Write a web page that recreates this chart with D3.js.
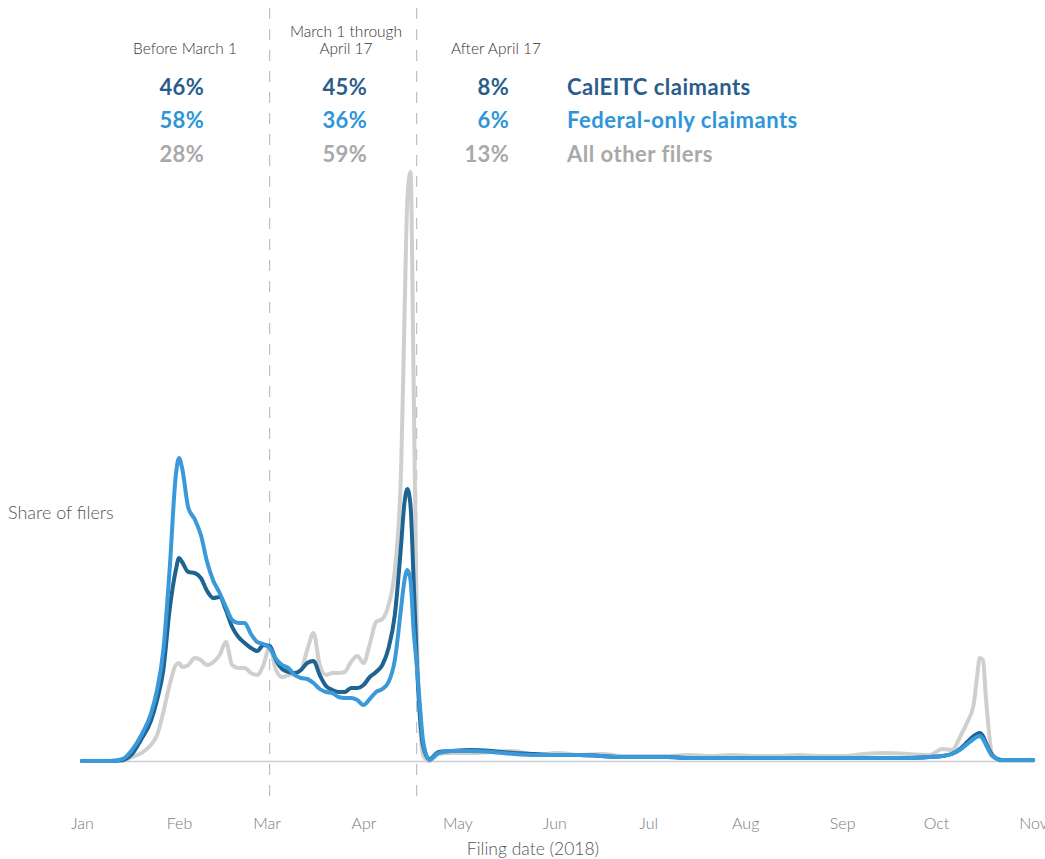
<!DOCTYPE html>
<html>
<head>
<meta charset="utf-8">
<script src="https://cdn.jsdelivr.net/npm/d3@7"></script>
<style>
  body { margin: 0; background: #fff; font-family: Lato, "Open Sans", sans-serif; }
  svg { display: block; }
  .tick text { font-family: Lato, sans-serif; font-weight: 300; }
</style>
</head>
<body>
<div id="chart"></div>
<script>
// Filing dates (2018) and share of filers per day for each group
var dates = [
  '01-01', '01-10', '01-14', '01-17', '01-20', '01-23', '01-25', '01-27', '01-29', '01-31',
  '02-01', '02-02', '02-04', '02-06', '02-08', '02-10', '02-12', '02-14', '02-16', '02-18',
  '02-20', '02-22', '02-24', '02-26', '02-28', '03-02', '03-04', '03-06', '03-08', '03-10',
  '03-12', '03-14', '03-16', '03-18', '03-20', '03-22', '03-24', '03-26', '03-28', '03-30',
  '04-01', '04-03', '04-05', '04-07', '04-09', '04-11', '04-13', '04-14', '04-15', '04-16',
  '04-17', '04-18', '04-19', '04-20', '04-22', '04-25', '04-29', '05-05', '05-12', '05-19',
  '05-26', '06-02', '06-09', '06-16', '06-23', '06-30', '07-07', '07-14', '07-21', '07-28',
  '08-04', '08-11', '08-18', '08-25', '09-01', '09-08', '09-15', '09-22', '09-29', '10-03',
  '10-06', '10-09', '10-11', '10-13', '10-14', '10-15', '10-16', '10-17', '10-19', '10-22',
  '10-26', '11-01'
];

var calEitc = [
  0, 0, 0.01, 0.07, 0.22, 0.40, 0.61, 0.91, 1.51, 1.91,
  2.03, 1.99, 1.89, 1.88, 1.83, 1.70, 1.63, 1.64, 1.51, 1.34,
  1.24, 1.18, 1.13, 1.10, 1.16, 1.15, 1.01, 0.92, 0.89, 0.88,
  0.91, 0.98, 1.00, 0.86, 0.75, 0.71, 0.69, 0.69, 0.73, 0.73,
  0.76, 0.84, 0.89, 0.96, 1.13, 1.46, 2.16, 2.56, 2.72, 2.56,
  1.81, 1.01, 0.46, 0.16, 0.02, 0.09, 0.10, 0.11, 0.10, 0.08,
  0.07, 0.06, 0.06, 0.05, 0.04, 0.04, 0.04, 0.03, 0.03, 0.03,
  0.03, 0.03, 0.03, 0.03, 0.03, 0.03, 0.03, 0.03, 0.04, 0.05,
  0.07, 0.13, 0.19, 0.25, 0.27, 0.28, 0.25, 0.18, 0.06, 0.01,
  0.01, 0.01
];

var federalOnly = [
  0, 0, 0.02, 0.11, 0.26, 0.47, 0.71, 1.11, 1.91, 2.86,
  3.03, 2.93, 2.53, 2.42, 2.26, 1.99, 1.80, 1.68, 1.54, 1.41,
  1.38, 1.38, 1.27, 1.19, 1.17, 1.13, 1.02, 0.96, 0.93, 0.86,
  0.83, 0.82, 0.78, 0.72, 0.69, 0.68, 0.64, 0.63, 0.63, 0.61,
  0.56, 0.62, 0.69, 0.72, 0.79, 1.01, 1.53, 1.79, 1.91, 1.81,
  1.31, 0.96, 0.56, 0.21, 0.01, 0.08, 0.10, 0.10, 0.09, 0.07,
  0.06, 0.06, 0.06, 0.05, 0.04, 0.04, 0.04, 0.03, 0.03, 0.03,
  0.03, 0.03, 0.03, 0.03, 0.03, 0.03, 0.03, 0.03, 0.04, 0.05,
  0.07, 0.12, 0.17, 0.22, 0.24, 0.25, 0.22, 0.16, 0.05, 0.01,
  0.01, 0.01
];

var otherFilers = [
  0, 0, 0, 0.04, 0.08, 0.16, 0.26, 0.49, 0.76, 0.96,
  0.98, 0.94, 0.96, 1.03, 1.01, 0.96, 0.99, 1.06, 1.19, 0.96,
  0.93, 0.93, 0.88, 0.86, 0.96, 1.14, 0.91, 0.84, 0.86, 0.87,
  0.91, 1.11, 1.28, 0.96, 0.86, 0.88, 0.88, 0.89, 0.99, 1.05,
  0.98, 1.17, 1.39, 1.42, 1.56, 1.91, 2.91, 4.31, 5.61, 5.89,
  3.81, 1.41, 0.41, 0.06, 0, 0.07, 0.08, 0.08, 0.09, 0.10,
  0.06, 0.08, 0.06, 0.07, 0.05, 0.05, 0.05, 0.06, 0.05, 0.06,
  0.05, 0.05, 0.06, 0.05, 0.05, 0.07, 0.08, 0.07, 0.06, 0.12,
  0.11, 0.26, 0.39, 0.56, 0.81, 1.03, 1.01, 0.61, 0.06, 0,
  0, 0
];

// Period summary (share of each group filing in each period)
var periods = ['Before March 1', 'March 1 through|April 17', 'After April 17'];
var periodBreaks = ['2018-03-02', '2018-04-18'];
var groups = ['CalEITC claimants', 'Federal-only claimants', 'All other filers'];
var groupColors = ['#2b5d8b', '#2e96d8', '#a9a9a9'];
var lineColors = ['#1e6392', '#3a9ad9', '#cfcfcf'];
var shares = [
  ['46%', '45%', '8%'],
  ['58%', '36%', '6%'],
  ['28%', '59%', '13%']
];

var width = 1045, height = 859;
var parseDate = d3.timeParse('%Y-%m-%d');

var svg = d3.select('#chart').append('svg')
  .attr('width', width)
  .attr('height', height);

var x = d3.scaleTime()
  .domain([parseDate('2018-01-01'), parseDate('2018-11-01')])
  .range([82, 1033]);

var y = d3.scaleLinear()
  .domain([0, 6])
  .range([761, 161]);

// baseline
svg.append('line')
  .attr('x1', x.range()[0] - 2).attr('x2', x.range()[1])
  .attr('y1', y(0) + 0.5).attr('y2', y(0) + 0.5)
  .attr('stroke', '#c9cdd8')
  .attr('stroke-width', 1.5);

// period break lines
svg.selectAll('.brk')
  .data(periodBreaks)
  .enter().append('line')
  .attr('class', 'brk')
  .attr('x1', d => x(parseDate(d))).attr('x2', d => x(parseDate(d)))
  .attr('y1', 8).attr('y2', 796)
  .attr('stroke', '#a7b2c8')
  .attr('stroke-width', 1)
  .attr('stroke-dasharray', '11,10');

// lines: others, CalEITC, federal-only (federal on top)
var series = [
  { name: groups[2], values: otherFilers, color: lineColors[2] },
  { name: groups[0], values: calEitc, color: lineColors[0] },
  { name: groups[1], values: federalOnly, color: lineColors[1] }
];

var line = d3.line()
  .x((d, i) => x(parseDate('2018-' + dates[i])))
  .y(d => y(d))
  .curve(d3.curveMonotoneX);

svg.selectAll('.series')
  .data(series)
  .enter().append('path')
  .attr('class', 'series')
  .attr('d', d => line(d.values))
  .attr('fill', 'none')
  .attr('stroke', d => d.color)
  .attr('stroke-width', 4)
  .attr('stroke-linejoin', 'round')
  .attr('stroke-linecap', 'round');

// x axis
var xAxis = d3.axisBottom(x)
  .ticks(d3.timeMonth.every(1))
  .tickFormat(d3.timeFormat('%b'))
  .tickSize(0)
  .tickPadding(8);

var gx = svg.append('g')
  .attr('transform', 'translate(0,810)')
  .call(xAxis);
gx.select('.domain').remove();
gx.selectAll('text')
  .attr('fill', '#7a7a7a')
  .style('font-size', '16px');

svg.append('text')
  .attr('x', 533).attr('y', 855)
  .attr('text-anchor', 'middle')
  .attr('fill', '#555')
  .style('font-size', '17.5px')
  .style('font-weight', 300)
  .text('Filing date (2018)');

svg.append('text')
  .attr('x', 8).attr('y', 519)
  .attr('fill', '#555')
  .style('font-size', '18px')
  .style('font-weight', 300)
  .text('Share of filers');

// header: period titles
var colCenters = [185, 346, 496];
var colRights = [204, 367, 509];
periods.forEach((p, i) => {
  var parts = p.split('|');
  var t = svg.append('text')
    .attr('x', colCenters[i])
    .attr('text-anchor', 'middle')
    .attr('fill', '#333')
    .style('font-size', '15.5px')
    .style('font-weight', 300);
  parts.forEach((s, j) => {
    t.append('tspan')
      .attr('x', colCenters[i])
      .attr('y', 54 - (parts.length - 1 - j) * 17)
      .text(s);
  });
});

// header: shares table and group labels
var rowY = [95, 128, 162];
groups.forEach((g, r) => {
  shares[r].forEach((v, c) => {
    svg.append('text')
      .attr('x', colRights[c])
      .attr('y', rowY[r])
      .attr('text-anchor', 'end')
      .attr('fill', groupColors[r])
      .style('font-size', '22px')
      .style('font-weight', 700)
      .style('letter-spacing', '0.3px')
      .text(v);
  });
  svg.append('text')
    .attr('x', 567)
    .attr('y', rowY[r])
    .attr('fill', groupColors[r])
    .style('font-size', '22px')
    .style('font-weight', 700)
    .style('letter-spacing', '0.5px')
    .text(g);
});
</script>
</body>
</html>
